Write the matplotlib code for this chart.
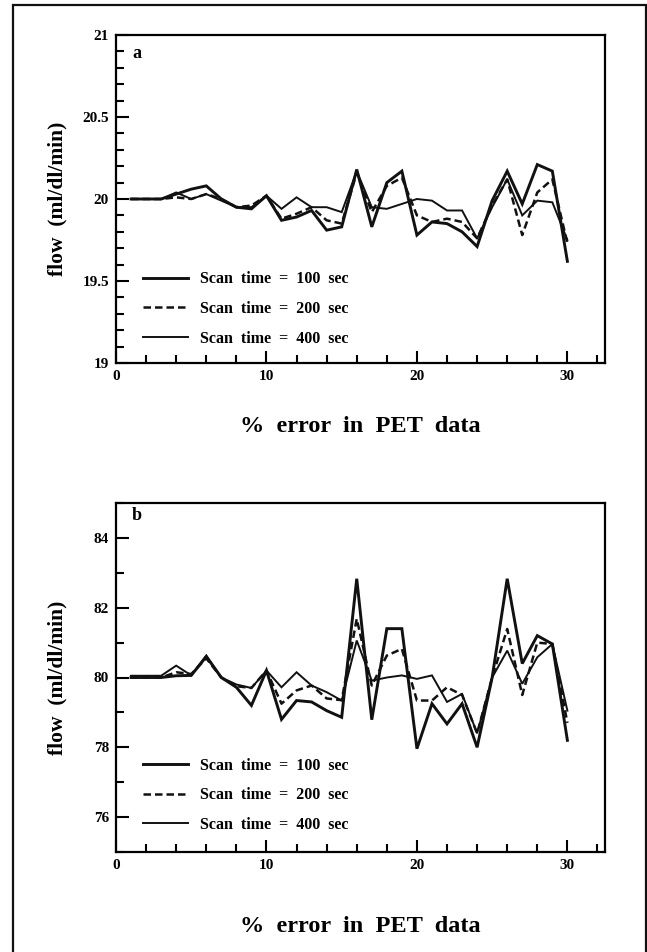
import matplotlib
matplotlib.use('Agg')
import matplotlib.pyplot as plt
import numpy as np
from matplotlib.patches import Rectangle
from matplotlib.ticker import FixedLocator, MultipleLocator

plt.rcParams['font.family'] = ['Liberation Serif', 'DejaVu Serif']
plt.rcParams['font.weight'] = 'bold'

# % error in PET data
error_pct = list(range(1, 31))

# panel a: flow 20 ml/dl/min
flow_a_100 = [20.0, 20.0, 20.0, 20.03, 20.06, 20.08, 20.0, 19.95, 19.94, 20.02,
              19.87, 19.89, 19.93, 19.81, 19.83, 20.18, 19.83, 20.1, 20.17, 19.78,
              19.86, 19.85, 19.8, 19.71, 19.99, 20.17, 19.97, 20.21, 20.17, 19.62]
flow_a_200 = [20.0, 20.0, 20.0, 20.01, 20.0, 20.03, 20.0, 19.95, 19.96, 20.02,
              19.88, 19.91, 19.95, 19.87, 19.85, 20.16, 19.92, 20.08, 20.13, 19.9,
              19.86, 19.88, 19.86, 19.76, 19.96, 20.12, 19.78, 20.04, 20.12, 19.73]
flow_a_400 = [20.0, 20.0, 20.0, 20.04, 20.0, 20.03, 19.99, 19.95, 19.95, 20.02,
              19.94, 20.01, 19.95, 19.95, 19.92, 20.17, 19.95, 19.94, 19.97, 20.0,
              19.99, 19.93, 19.93, 19.76, 19.95, 20.12, 19.9, 19.99, 19.98, 19.75]

# panel b: flow 80 ml/dl/min
flow_b_100 = [80.0, 80.0, 80.0, 80.05, 80.06, 80.6, 80.0, 79.72, 79.2, 80.2,
              78.8, 79.34, 79.3, 79.05, 78.86, 82.83, 78.79, 81.4, 81.4, 77.96,
              79.25, 78.67, 79.25, 78.0, 80.0, 82.83, 80.4, 81.2, 80.96, 78.2]
flow_b_200 = [80.0, 80.0, 80.0, 80.15, 80.1, 80.55, 80.0, 79.75, 79.7, 80.2,
              79.25, 79.63, 79.77, 79.4, 79.35, 81.68, 79.77, 80.63, 80.82, 79.34,
              79.34, 79.72, 79.5, 78.4, 80.0, 81.39, 79.5, 81.0, 80.96, 78.7]
flow_b_400 = [80.05, 80.05, 80.05, 80.34, 80.06, 80.63, 80.0, 79.8, 79.7, 80.2,
              79.72, 80.15, 79.77, 79.58, 79.34, 81.06, 79.91, 80.0, 80.06, 79.96,
              80.06, 79.3, 79.53, 78.4, 80.0, 80.77, 79.82, 80.58, 80.96, 79.05]

labels = ['Scan  time  =  100  sec', 'Scan  time  =  200  sec',
          'Scan  time  =  400  sec']
W, H = 647, 952


def make_panel(ax, series, ylim, yticks, yminor, letter, letter_y, leg_y, xlabelpad):
    styles = [dict(lw=2.1, ls='-'), dict(lw=1.8, ls=(0, (3, 1.6))),
              dict(lw=1.4, ls='-')]
    for ys, st, lab in zip(series, styles, labels):
        ax.plot(error_pct, ys, color='#111111', label=lab,
                solid_joinstyle='miter', **st)
    ax.set_xlim(0, 32.5)
    ax.set_ylim(*ylim)
    ax.xaxis.set_major_locator(FixedLocator([0, 10, 20, 30]))
    ax.xaxis.set_minor_locator(MultipleLocator(2))
    ax.yaxis.set_major_locator(FixedLocator(yticks))
    ax.yaxis.set_minor_locator(MultipleLocator(yminor))
    ax.set_yticklabels(['%g' % t for t in yticks])
    ax.tick_params(which='both', direction='in', width=1.5, labelsize=11,
                   top=False, right=False)
    ax.tick_params(which='major', length=9, pad=5)
    ax.tick_params(which='minor', length=6)
    for s in ax.spines.values():
        s.set_linewidth(1.6)
    ax.set_xlabel('%  error  in  PET  data', fontsize=17.5, fontweight='bold',
                  labelpad=xlabelpad)
    ax.set_ylabel('flow  (ml/dl/min)', fontsize=15.5, fontweight='bold')
    ax.yaxis.set_label_coords(-0.10, 0.5)
    ax.text(0.043, letter_y, letter, transform=ax.transAxes, fontsize=13,
            fontweight='bold', ha='center', va='center')
    ax.legend(loc='lower left', bbox_to_anchor=(0.055, leg_y), frameon=False,
              fontsize=11.5, handlelength=2.8, handletextpad=0.75,
              labelspacing=0.85, borderpad=0, borderaxespad=0)


fig = plt.figure(figsize=(W / 100, H / 100), dpi=100)
ax_a = fig.add_axes([116 / W, 1 - 363 / H, 489 / W, 328 / H])
ax_b = fig.add_axes([116 / W, 1 - 852 / H, 489 / W, 349 / H])

make_panel(ax_a, [flow_a_100, flow_a_200, flow_a_400], (19, 21),
           [19, 19.5, 20, 20.5, 21], 0.1, 'a', 0.945, 0.05, 24)
make_panel(ax_b, [flow_b_100, flow_b_200, flow_b_400], (75, 85),
           [76, 78, 80, 82, 84], 1, 'b', 0.965, 0.055, 32)

fig.add_artist(Rectangle((13 / W, -0.01), 633 / W, 1.0 - 5 / H + 0.01,
                         transform=fig.transFigure, fill=False, lw=1.6,
                         edgecolor='#111111'))

fig.savefig('out.png', dpi=100)
